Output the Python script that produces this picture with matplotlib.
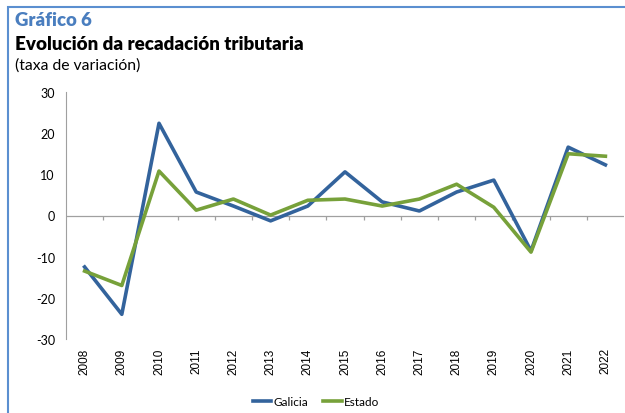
import matplotlib.pyplot as plt
from matplotlib.patches import Rectangle

years = ["2008", "2009", "2010", "2011", "2012", "2013", "2014", "2015",
         "2016", "2017", "2018", "2019", "2020", "2021", "2022"]
galicia = [-12.5, -24.0, 22.4, 5.7, 2.3, -1.3, 2.3, 10.6, 3.3, 1.1, 5.7, 8.6, -8.6, 16.6, 12.3]
estado = [-13.5, -17.0, 10.8, 1.3, 4.0, 0.1, 3.7, 4.0, 2.3, 4.0, 7.6, 2.0, -8.9, 15.0, 14.4]

plt.rcParams['font.family'] = ['Lato', 'DejaVu Sans']

fig = plt.figure(figsize=(6.25, 4.14), dpi=100)

# blue frame round the chart (only top and left visible in the crop)
fig.patches.append(Rectangle((8 / 625, -0.1), 1.2, 1 - 8 / 414 + 0.1, transform=fig.transFigure,
                             fill=False, edgecolor="#5b8fd0", linewidth=1.5))

fig.text(15 / 625, 1 - 20 / 414, "Gráfico 6", color="#4a7ebf", fontsize=13.3,
         fontweight="heavy", va="center")
fig.text(15 / 625, 1 - 45 / 414, "Evolución da recadación tributaria", color="black",
         fontsize=13.5, fontweight="heavy", va="center")
fig.text(15 / 625, 1 - 66 / 414, "(taxa de variación)", color="black", fontsize=11.3, va="center")

ax = fig.add_axes([66 / 625, 1 - 340 / 414, 558 / 625, 247 / 414])
x = range(len(years))
ax.plot(x, galicia, color="#33639c", linewidth=2.6, label="Galicia", zorder=3)
ax.plot(x, estado, color="#77a13a", linewidth=2.6, label="Estado", zorder=3)

ax.set_ylim(-30, 30)
ax.set_xlim(-0.5, len(years) - 0.5)
ax.set_yticks([-30, -20, -10, 0, 10, 20, 30])
ax.set_yticklabels(["-30", "-20", "-10", "0", "10", "20", "30"])
ax.set_xticks(list(x))
ax.set_xticklabels(years, rotation=90, fontsize=8.5, family="Liberation Sans")
ax.tick_params(axis="x", length=0, pad=6)
ax.tick_params(axis="y", length=0, pad=8, labelsize=9)

for s in ["top", "right", "bottom"]:
    ax.spines[s].set_visible(False)
ax.spines["left"].set_color("#a0a0a0")
ax.axhline(0, color="#a0a0a0", linewidth=0.9, zorder=1)
ax.vlines([i + 0.5 for i in range(len(years) - 1)], -1.2, 0, color="#a0a0a0",
          linewidth=0.9, zorder=1)

fig.legend(loc="center", bbox_to_anchor=(316 / 625, 1 - 403 / 414), ncol=2, frameon=False,
           fontsize=8.5, handlelength=1.6, handletextpad=0.2, columnspacing=1.2)

fig.savefig("out.png", dpi=100)
